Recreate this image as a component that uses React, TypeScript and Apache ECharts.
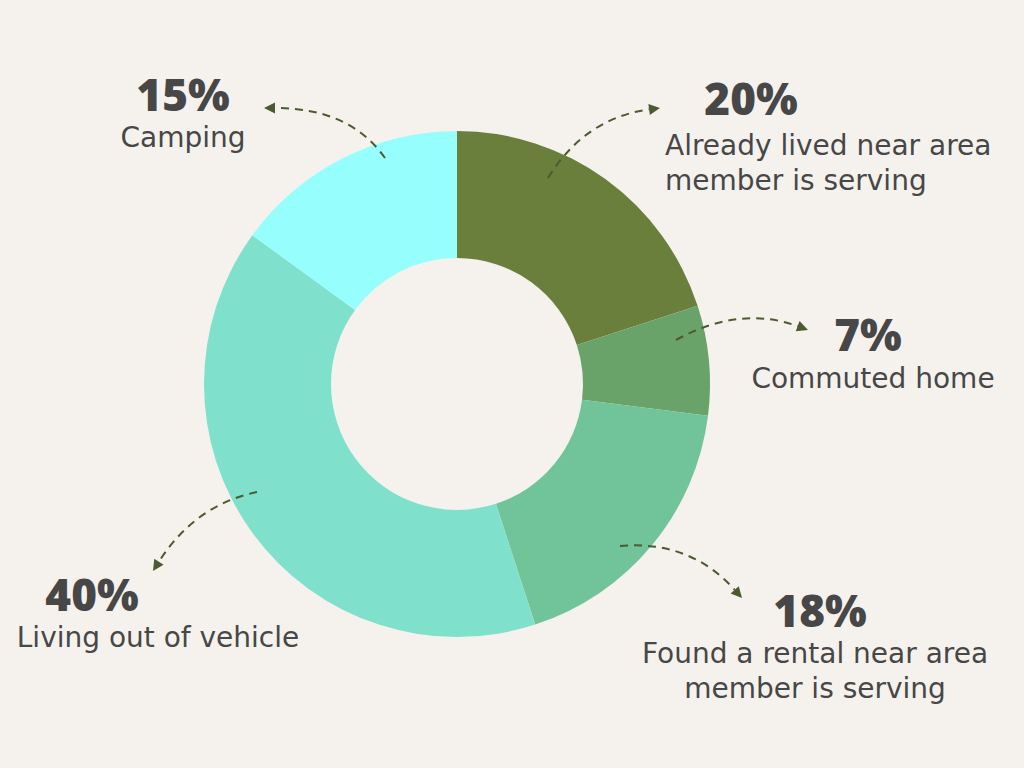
import React, { useEffect, useRef } from "react";
import * as echarts from "echarts";

const categories = [
  "Already lived near area\nmember is serving",
  "Commuted home",
  "Found a rental near area\nmember is serving",
  "Living out of vehicle",
  "Camping",
];
const values = [20, 7, 18, 40, 15];
const colors = ["#6a7f3c", "#6aa36a", "#71c49a", "#7fe1cb", "#97fefe"];

// label layout: [pctX, pctY, descX, descY (first line), align]
const labelPos: [number, number, number, number, string][] = [
  [751, 98, 665, 145, "left"],
  [868, 334, 873, 378, "center"],
  [820, 610, 815, 653, "center"],
  [92, 594, 158, 637, "center"],
  [183, 94, 183, 137, "center"],
];
// arrows: start, control, end
const arrows: number[][] = [
  [548, 178, 585, 118, 660, 108],
  [676, 340, 740, 305, 808, 330],
  [620, 546, 690, 540, 742, 598],
  [257, 492, 195, 505, 153, 571],
  [385, 158, 350, 108, 264, 108],
];

export default function App() {
  const ref = useRef<HTMLDivElement>(null);
  useEffect(() => {
    if (!ref.current) return;
    const chart = echarts.init(ref.current, null, { renderer: "svg" });
    const graphics: any[] = [];
    const textColor = "#474747";
    const arrowColor = "#4b5a30";
    labelPos.forEach((p, i) => {
      graphics.push({
        type: "text",
        x: p[0],
        y: p[1],
        z: 100,
        style: {
          text: values[i] + "%",
          fontFamily: "Open Sans",
          fontWeight: 800,
          fontSize: 44,
          lineHeight: 34,
          fill: textColor,
          align: "center",
          verticalAlign: "middle",
        },
      });
      categories[i].split("\n").forEach((line, j) => {
        graphics.push({
          type: "text",
          x: p[2],
          y: p[3] + j * 35,
          z: 100,
          style: {
            text: line,
            fontFamily: "DejaVu Sans",
            fontSize: 28,
            lineHeight: 28,
            fill: textColor,
            align: p[4],
            verticalAlign: "middle",
          },
        });
      });
    });
    arrows.forEach((a) => {
      const [x1, y1, cx, cy, x2, y2] = a;
      const dx = x2 - cx;
      const dy = y2 - cy;
      const len = Math.sqrt(dx * dx + dy * dy);
      const ux = dx / len;
      const uy = dy / len;
      const L = 11;
      const W = 5.5;
      const bx = x2 - ux * L;
      const by = y2 - uy * L;
      graphics.push({
        type: "bezierCurve",
        z: 100,
        shape: { x1, y1, x2: bx, y2: by, cpx1: cx, cpy1: cy },
        style: { stroke: arrowColor, lineWidth: 2, lineDash: [8, 6], fill: null },
      });
      graphics.push({
        type: "polygon",
        z: 100,
        shape: {
          points: [
            [x2, y2],
            [bx - uy * W, by + ux * W],
            [bx + uy * W, by - ux * W],
          ],
        },
        style: { fill: arrowColor },
      });
    });
    chart.setOption({
      animation: false,
      backgroundColor: "#f5f2ed",
      series: [
        {
          type: "pie",
          center: [457, 384],
          radius: [126, 253],
          startAngle: 90,
          clockwise: true,
          label: { show: false },
          labelLine: { show: false },
          silent: true,
          z: 1,
          data: values.map((v, i) => ({
            value: v,
            name: categories[i],
            itemStyle: { color: colors[i] },
          })),
        },
      ],
      graphic: graphics,
    });
    return () => chart.dispose();
  }, []);
  return (
    <div
      ref={ref}
      style={{ position: "fixed", left: 0, top: 0, width: 1024, height: 768 }}
    />
  );
}
